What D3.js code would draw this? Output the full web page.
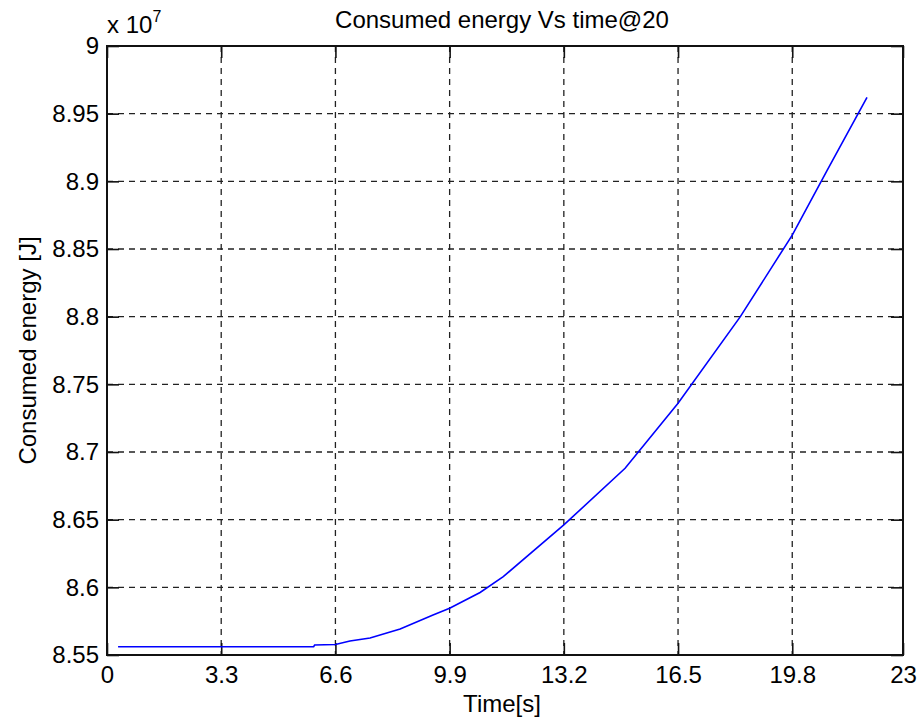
<!DOCTYPE html>
<html>
<head>
<meta charset="utf-8">
<script src="https://cdn.jsdelivr.net/npm/d3@7"></script>
<style>
  body { margin: 0; background: #fff; }
  text { font-family: "Liberation Sans", Arial, sans-serif; fill: #000; }
</style>
</head>
<body>
<div id="chart"></div>
<script>
// Chart dimensions
const width = 919;
const height = 723;
const margin = { top: 46, right: 16, bottom: 68, left: 107 };

// time [s] and consumed energy (x 10^7 J)
const times = [0.32, 5.97, 6.0, 6.6, 7.02, 7.6, 8.47, 9.42, 9.9, 10.78, 11.45, 13.2, 14.97, 16.5, 18.3, 19.8, 20.8, 21.96];
const energy = [8.5561, 8.5561, 8.5574, 8.5578, 8.5603, 8.5626, 8.5692, 8.5796, 8.5845, 8.5962, 8.6079, 8.6461, 8.688, 8.736, 8.8, 8.8603, 8.9077, 8.9621];

const xTicks = [0, 3.3, 6.6, 9.9, 13.2, 16.5, 19.8, 23];
const yTicks = [8.55, 8.6, 8.65, 8.7, 8.75, 8.8, 8.85, 8.9, 8.95, 9];

const innerW = width - margin.left - margin.right;
const innerH = height - margin.top - margin.bottom;
const fontSize = "24px";

const svg = d3.select("#chart")
  .append("svg")
  .attr("width", width)
  .attr("height", height);

const g = svg.append("g")
  .attr("transform", `translate(${margin.left},${margin.top})`);

const xScale = d3.scaleLinear().domain([0, 23]).range([0, innerW]);
const yScale = d3.scaleLinear().domain([8.55, 9]).range([innerH, 0]);

// grid lines
g.append("g")
  .selectAll("line")
  .data(xTicks.slice(1, -1))
  .enter()
  .append("line")
  .attr("x1", d => xScale(d)).attr("x2", d => xScale(d))
  .attr("y1", 0).attr("y2", innerH)
  .attr("stroke", "#222")
  .attr("stroke-width", 1.3)
  .attr("stroke-dasharray", "6,5");

g.append("g")
  .selectAll("line")
  .data(yTicks.slice(1, -1))
  .enter()
  .append("line")
  .attr("y1", d => yScale(d)).attr("y2", d => yScale(d))
  .attr("x1", 0).attr("x2", innerW)
  .attr("stroke", "#222")
  .attr("stroke-width", 1.3)
  .attr("stroke-dasharray", "6,5");

// axes (MATLAB style: inward ticks on all four sides)
const fmt = d => String(d);
const tickLen = 12;

const xBottom = g.append("g")
  .attr("transform", `translate(0,${innerH})`)
  .call(d3.axisBottom(xScale).tickValues(xTicks).tickFormat(fmt).tickSizeInner(-tickLen).tickSizeOuter(0).tickPadding(11));
const xTop = g.append("g")
  .call(d3.axisTop(xScale).tickValues(xTicks).tickFormat("").tickSizeInner(-tickLen).tickSizeOuter(0));
const yLeft = g.append("g")
  .call(d3.axisLeft(yScale).tickValues(yTicks).tickFormat(fmt).tickSizeInner(-tickLen).tickSizeOuter(0).tickPadding(8));
const yRight = g.append("g")
  .attr("transform", `translate(${innerW},0)`)
  .call(d3.axisRight(yScale).tickValues(yTicks).tickFormat("").tickSizeInner(-tickLen).tickSizeOuter(0));

[xBottom, xTop, yLeft, yRight].forEach(a => {
  a.select(".domain").remove();
  a.selectAll("line").attr("stroke", "#111").attr("stroke-width", 1.6);
  a.selectAll("text").style("font-size", fontSize).attr("fill", "#000");
});

// box
g.append("rect")
  .attr("x", 0).attr("y", 0)
  .attr("width", innerW).attr("height", innerH)
  .attr("fill", "none")
  .attr("stroke", "#111")
  .attr("stroke-width", 2);

// the curve
const line = d3.line()
  .x((d, i) => xScale(times[i]))
  .y(d => yScale(d));

g.append("path")
  .datum(energy)
  .attr("d", line)
  .attr("fill", "none")
  .attr("stroke", "#0000ff")
  .attr("stroke-width", 1.6);

// title and labels
svg.append("text")
  .attr("x", margin.left + innerW / 2 - 3)
  .attr("y", 28)
  .attr("text-anchor", "middle")
  .style("font-size", fontSize)
  .text("Consumed energy Vs time@20");

svg.append("text")
  .attr("x", margin.left + innerW / 2 - 3)
  .attr("y", 712)
  .attr("text-anchor", "middle")
  .style("font-size", fontSize)
  .text("Time[s]");

svg.append("text")
  .attr("transform", `translate(36,${margin.top + innerH / 2}) rotate(-90)`)
  .attr("text-anchor", "middle")
  .style("font-size", fontSize)
  .text("Consumed energy [J]");

// exponent label
const expo = svg.append("text")
  .attr("x", 107)
  .attr("y", 33)
  .style("font-size", fontSize);
expo.append("tspan").text("x 10");
expo.append("tspan").attr("dy", -11).style("font-size", "16px").text("7");
</script>
</body>
</html>
